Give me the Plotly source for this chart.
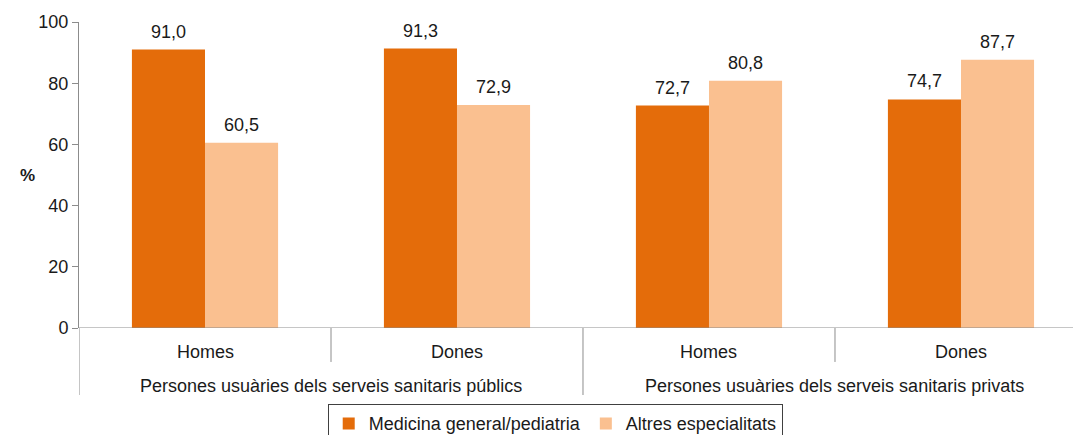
import plotly.graph_objects as go

groups = ["Persones usuàries dels serveis sanitaris públics",
          "Persones usuàries dels serveis sanitaris privats"]
subcats = ["Homes", "Dones", "Homes", "Dones"]
series_names = ["Medicina general/pediatria", "Altres especialitats"]
medicina = [91.0, 91.3, 72.7, 74.7]
altres = [60.5, 72.9, 80.8, 87.7]
y_ticks = [0, 20, 40, 60, 80, 100]

colors = ["#E46C0A", "#FAC090"]
font = "Liberation Sans, Arial, sans-serif"
grey = "#8c8c8c"
txt = "#1a1a1a"

xpos = [i + 0.5 for i in range(len(subcats))]
bw = 0.29

fig = go.Figure()
annotations = []
for k, (name, vals) in enumerate([(series_names[0], medicina), (series_names[1], altres)]):
    off = -bw if k == 0 else 0
    fig.add_trace(go.Bar(
        x=xpos, y=vals, name=name, width=bw, offset=off,
        marker=dict(color=colors[k], line=dict(width=0)),
    ))
    for xv, v in zip(xpos, vals):
        annotations.append(dict(x=xv + off + bw / 2, y=v, xref="x", yref="y",
                                text=f"{v:.1f}".replace(".", ","), showarrow=False,
                                yanchor="bottom", yshift=6,
                                font=dict(family=font, size=18, color=txt)))

shapes = []
for xv, yb in [(0, -0.219), (1, -0.111), (2, -0.219), (3, -0.111)]:
    shapes.append(dict(type="line", xref="x", yref="paper", x0=xv, x1=xv,
                       y0=0, y1=yb, line=dict(color=grey, width=1)))
shapes.append(dict(type="line", xref="paper", yref="y", x0=0, x1=1, y0=0, y1=0,
                   line=dict(color=grey, width=1)))

for xv, lab in zip(xpos, subcats):
    annotations.append(dict(x=xv, y=-0.078, xref="x", yref="paper", text=lab,
                            showarrow=False, yanchor="middle",
                            font=dict(family=font, size=18, color=txt)))
for gi, g in enumerate(groups):
    annotations.append(dict(x=gi * 2 + 1, y=-0.190, xref="x", yref="paper", text=g,
                            showarrow=False, yanchor="middle",
                            font=dict(family=font, size=18, color=txt)))
annotations.append(dict(x=-0.0604, y=0.5, xref="paper", yref="paper", text="<b>%</b>",
                        showarrow=False, yanchor="middle",
                        font=dict(family=font, size=17, color=txt)))

# the page body adds an 8px offset, compensated in the margins
fig.update_layout(
    width=1081, height=435,
    margin=dict(l=71, r=0, t=14, b=115, autoexpand=False),
    plot_bgcolor="white", paper_bgcolor="white",
    barmode="overlay",
    showlegend=True,
    legend=dict(orientation="h", x=0.4715, xanchor="center", y=-0.249, yanchor="top",
                bordercolor="#404040", borderwidth=1,
                font=dict(family=font, size=18, color=txt),
                itemwidth=30, tracegroupgap=0),
    xaxis=dict(range=[0, 4.008], showticklabels=False, showgrid=False,
               zeroline=False, showline=False, ticks="", automargin=False),
    yaxis=dict(range=[0, 100], tickvals=y_ticks, showgrid=False, zeroline=False,
               showline=True, linecolor=grey, linewidth=1,
               ticks="outside", ticklen=6, tickcolor=grey, automargin=False,
               tickfont=dict(family=font, size=18, color=txt)),
    shapes=shapes,
    annotations=annotations,
)

fig.write_html("out.html")
